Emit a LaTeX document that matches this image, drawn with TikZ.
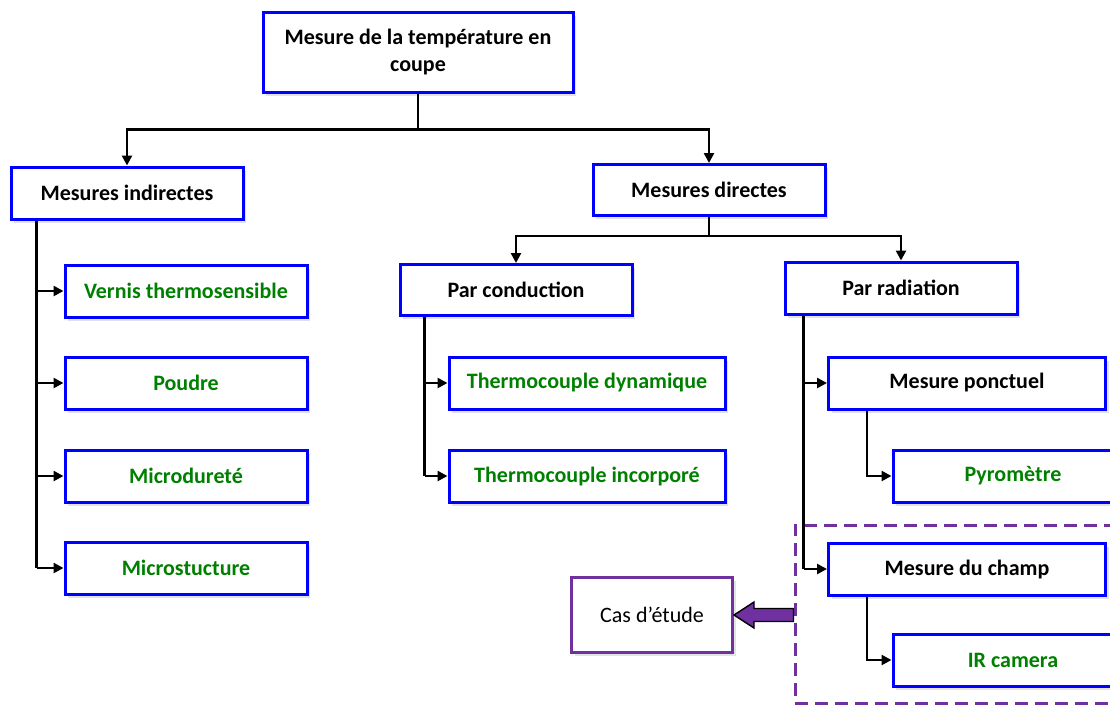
\documentclass[tikz,border=0pt]{standalone}
\usepackage{fontspec}
\setmainfont{Carlito}
\usetikzlibrary{arrows.meta,shadows,calc,positioning}
\definecolor{boxblue}{RGB}{0,0,255}
\definecolor{txtgreen}{RGB}{0,128,0}
\definecolor{studypurple}{RGB}{112,48,160}
\tikzset{
  box/.style={draw=boxblue, line width=3pt, fill=white, rectangle,
    font=\fontsize{22}{27}\selectfont\bfseries, align=center, inner sep=0pt,
    drop shadow={opacity=0.22, shadow xshift=3pt, shadow yshift=-3.5pt}},
  gbox/.style={box, text=txtgreen},
  conn/.style={draw=black, line width=2.6pt},
  arr/.style={conn, -{Triangle[length=10pt,width=10pt]}},
}
\begin{document}
\begin{tikzpicture}[x=1pt,y=-1pt]
\useasboundingbox (0,0) rectangle (1110,705);
% dashed study region
\node[draw=studypurple, dash pattern=on 13pt off 7pt, line width=3pt,
  minimum width=322pt, minimum height=178pt, inner sep=0pt] (study) at (956,614) {};
% boxes
\node[box, minimum width=310pt, minimum height=80pt] (top) at (418,52) {Mesure de la température en\\coupe};
\node[box, minimum width=232pt, minimum height=52pt] (ind) at (127,193) {Mesures indirectes};
\node[box, minimum width=232pt, minimum height=51pt] (dir) at (709,190) {Mesures directes};
\node[gbox, minimum width=242pt, minimum height=52pt] (vern) at (186,291) {Vernis thermosensible};
\node[gbox, minimum width=242pt, minimum height=52pt] (poud) at (186,383) {Poudre};
\node[gbox, minimum width=242pt, minimum height=52pt] (micd) at (186,476) {Microdureté};
\node[gbox, minimum width=242pt, minimum height=52pt] (mics) at (186,568) {Microstucture};
\node[box, minimum width=232pt, minimum height=51pt] (cond) at (516,290) {Par conduction};
\node[box, minimum width=232pt, minimum height=52pt] (rad) at (901,288) {Par radiation};
\node[gbox, minimum width=276pt, minimum height=52pt] (tdyn) at (587,383) {Thermocouple dynamique};
\node[gbox, minimum width=276pt, minimum height=52pt] (tinc) at (587,476) {Thermocouple incorporé};
\node[box, minimum width=277pt, minimum height=52pt] (ponc) at (967,383) {Mesure ponctuel};
\node[gbox, minimum width=240pt, minimum height=52pt] (pyro) at (1013,476) {Pyromètre};
\node[box, minimum width=277pt, minimum height=52pt] (champ) at (967,569) {Mesure du champ};
\node[gbox, minimum width=240pt, minimum height=52pt] (ir) at (1013,660) {IR camera};
\node[draw=studypurple, line width=3pt, fill=white, minimum width=161pt, minimum height=75pt,
  font=\fontsize{22}{27}\selectfont, inner sep=0pt,
  drop shadow={opacity=0.22, shadow xshift=3pt, shadow yshift=-3.5pt}] (cas) at (652,615) {Cas d’étude};
% connectors
\coordinate (j1) at ($(top.south)+(0,36)$);
\draw[arr] (top.south) -- (j1) -| (ind.north);
\draw[arr] (j1) -| (dir.north);
\coordinate (j2) at ($(dir.south)+(0,19)$);
\draw[arr] (dir.south) -- (j2) -| (cond.north);
\draw[arr] (j2) -| (rad.north);
% indirect
\coordinate (iv) at ($(ind.south west)+(27,0)$);
\draw[conn] (iv) -- (iv |- mics.west);
\foreach \n in {vern,poud,micd,mics} \draw[arr] (iv |- \n.west) -- (\n.west);
% conduction
\coordinate (cv) at ($(cond.south west)+(26,0)$);
\draw[conn] (cv) -- (cv |- tinc.west);
\foreach \n in {tdyn,tinc} \draw[arr] (cv |- \n.west) -- (\n.west);
% radiation
\coordinate (rv) at ($(rad.south west)+(20,0)$);
\draw[conn] (rv) -- (rv |- champ.west);
\foreach \n in {ponc,champ} \draw[arr] (rv |- \n.west) -- (\n.west);
\coordinate (pv) at ($(ponc.south west)+(40,0)$);
\draw[arr] (pv) |- (pyro.west);
\coordinate (mv) at ($(champ.south west)+(40,0)$);
\draw[arr] (mv) |- (ir.west);
% block arrow to study case
\coordinate (bs) at (study.west |- cas.east);
\filldraw[fill=studypurple, draw=black, line width=1.4pt, line join=miter]
  (bs) ++(0,-6.5) -- ($(cas.east)+(20,-6.5)$) -- ($(cas.east)+(20,-13)$) -- (cas.east)
  -- ($(cas.east)+(20,13)$) -- ($(cas.east)+(20,6.5)$) -- ($(bs)+(0,6.5)$) -- cycle;
\end{tikzpicture}
\end{document}
